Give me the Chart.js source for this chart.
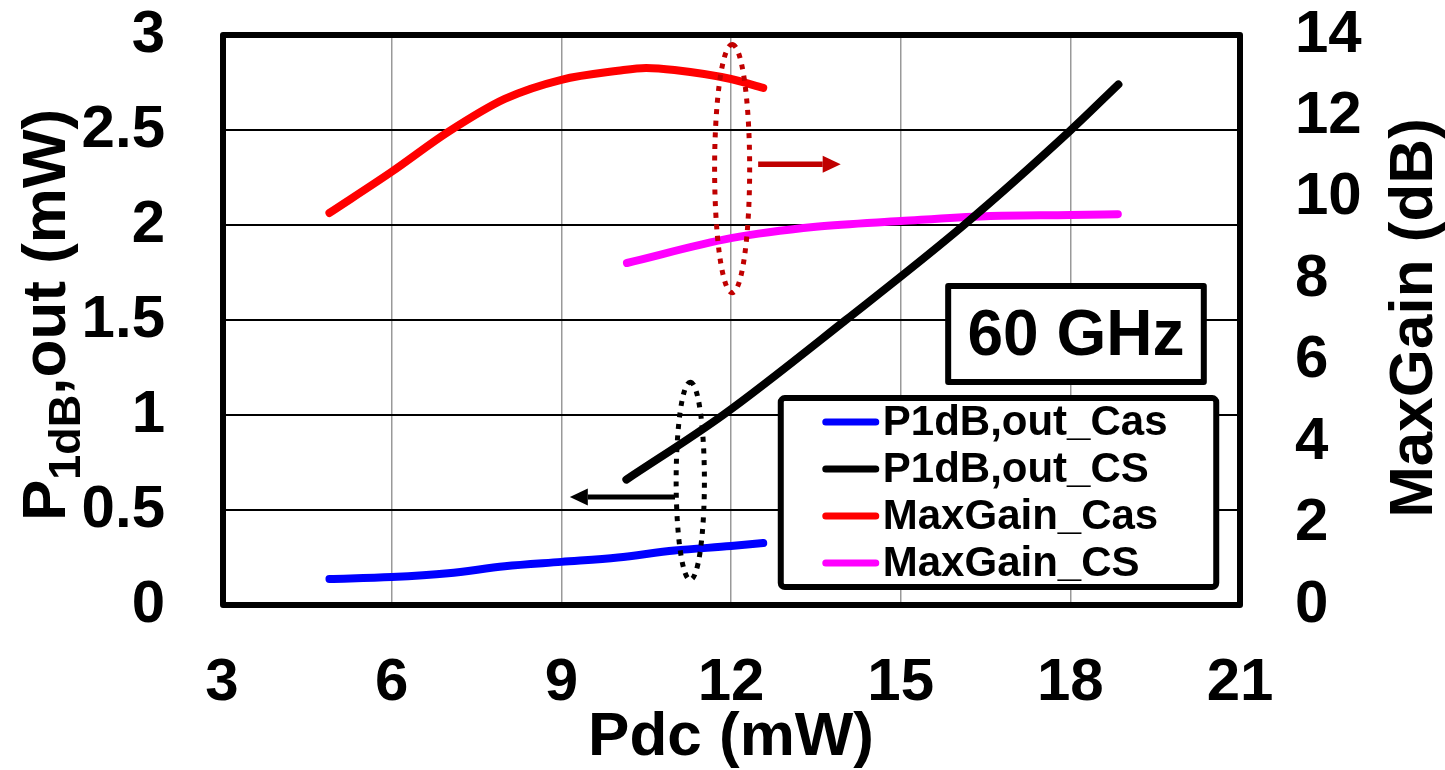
<!DOCTYPE html>
<html>
<head>
<meta charset="utf-8">
<title>P1dB,out and MaxGain vs Pdc</title>
<script src="https://cdn.jsdelivr.net/npm/chart.js@4.4.1/dist/chart.umd.min.js"></script>
<style>
  html, body { margin: 0; padding: 0; background: #fff; }
  canvas { display: block; }
</style>
</head>
<body>
<canvas id="chart" width="1445" height="770"></canvas>
<script>
// ---------------- Data ----------------
const xTicks = [3, 6, 9, 12, 15, 18, 21];
const p1dbTicks = [0, 0.5, 1, 1.5, 2, 2.5, 3];
const gainTicks = [0, 2, 4, 6, 8, 10, 12, 14];

// P1dB,out (mW) vs Pdc (mW)
const p1dbCasX = [4.9, 6, 7, 8, 9, 10, 11, 12, 12.57];
const p1dbCasY = [0.137, 0.147, 0.167, 0.204, 0.227, 0.25, 0.287, 0.31, 0.326];
const p1dbCsX  = [10.15, 11.86, 14.03, 16.12, 18.01, 18.85];
const p1dbCsY  = [0.66, 1.0, 1.5, 2.0, 2.5, 2.74];

// MaxGain (dB) vs Pdc (mW)
const gainCasX = [4.9, 6, 7, 8, 9, 10, 10.5, 11, 12, 12.57];
const gainCasY = [9.63, 10.64, 11.62, 12.43, 12.9, 13.12, 13.19, 13.14, 12.92, 12.7];
const gainCsX  = [10.16, 12, 13.5, 15, 16.5, 18, 18.84];
const gainCsY  = [8.4, 9.01, 9.29, 9.43, 9.55, 9.58, 9.6];

const seriesNames = ["P1dB,out_Cas", "P1dB,out_CS", "MaxGain_Cas", "MaxGain_CS"];

// ---------------- Annotations (in x / left-axis units) ----------------
const gainMark   = { x: 12.02, y: 2.297, rx: 0.31, ry: 0.653, color: "#C00000" };
const p1dbMark   = { x: 11.28, y: 0.653, rx: 0.25, ry: 0.52, color: "#000000" };
const gainArrow  = { x0: 12.48, x1: 13.94, y: 2.32, color: "#C00000", width: 5.5 };
const p1dbArrow  = { x0: 11.01, x1: 9.15, y: 0.568, color: "#000000", width: 5 };
const freqBox    = { x0: 15.84, x1: 20.36, y0: 1.679, y1: 1.174, text: "60 GHz" };
const legendBox  = { x0: 12.88, x1: 20.58, y0: 1.089, y1: 0.095 };

const FONT = "'Liberation Sans', Arial, sans-serif";
const toPts = (xs, ys) => xs.map((x, i) => ({ x, y: ys[i] }));

function line(label, color, data, axis) {
  return {
    label, data, yAxisID: axis,
    borderColor: color, backgroundColor: color,
    borderWidth: 8, pointRadius: 0,
    borderCapStyle: "round", borderJoinStyle: "round",
    cubicInterpolationMode: "monotone", fill: false
  };
}

// big tick paddings must not push the plot area in from the canvas edges
function fixedSize(prop, size) {
  return s => {
    s[prop] = size;
    s.paddingTop = s.paddingBottom = s.paddingLeft = s.paddingRight = 0;
  };
}

// ---------------- Drawing helpers ----------------
function dottedEllipse(ctx, x, y, m) {
  const cx = x.getPixelForValue(m.x), cy = y.getPixelForValue(m.y);
  const rx = Math.abs(x.getPixelForValue(m.x + m.rx) - cx);
  const ry = Math.abs(y.getPixelForValue(m.y + m.ry) - cy);
  ctx.save();
  ctx.strokeStyle = m.color;
  ctx.lineWidth = 5;
  ctx.setLineDash([5, 6.5]);
  ctx.beginPath();
  ctx.ellipse(cx, cy, rx, ry, 0, -Math.PI / 2, Math.PI * 1.5);
  ctx.stroke();
  ctx.restore();
}

function arrow(ctx, x, y, a) {
  const px0 = x.getPixelForValue(a.x0), px1 = x.getPixelForValue(a.x1);
  const py = y.getPixelForValue(a.y);
  const dir = Math.sign(px1 - px0);
  const head = 18;
  ctx.save();
  ctx.strokeStyle = a.color;
  ctx.fillStyle = a.color;
  ctx.lineWidth = a.width;
  ctx.beginPath();
  ctx.moveTo(px0, py);
  ctx.lineTo(px1 - dir * head, py);
  ctx.stroke();
  ctx.beginPath();
  ctx.moveTo(px1, py);
  ctx.lineTo(px1 - dir * head, py - 8.5);
  ctx.lineTo(px1 - dir * head, py + 8.5);
  ctx.closePath();
  ctx.fill();
  ctx.restore();
}

function boxRect(x, y, b) {
  const l = x.getPixelForValue(b.x0), r = x.getPixelForValue(b.x1);
  const t = y.getPixelForValue(b.y0), btm = y.getPixelForValue(b.y1);
  return { l, t, w: r - l, h: btm - t };
}

const overlays = {
  id: "overlays",
  afterDatasetsDraw(chart) {
    const { ctx, chartArea: a, scales: { x, y } } = chart;
    ctx.save();

    // plot frame
    ctx.strokeStyle = "#000";
    ctx.lineWidth = 6;
    ctx.lineJoin = "round";
    ctx.strokeRect(a.left + 1, a.top, a.right - a.left - 1, a.bottom - a.top);

    dottedEllipse(ctx, x, y, gainMark);
    dottedEllipse(ctx, x, y, p1dbMark);
    arrow(ctx, x, y, gainArrow);
    arrow(ctx, x, y, p1dbArrow);

    // frequency label
    const f = boxRect(x, y, freqBox);
    ctx.fillStyle = "#fff";
    ctx.fillRect(f.l, f.t, f.w, f.h);
    ctx.lineWidth = 6;
    ctx.strokeRect(f.l, f.t, f.w, f.h);
    ctx.fillStyle = "#000";
    ctx.font = `bold 64px ${FONT}`;
    ctx.textAlign = "center";
    ctx.textBaseline = "middle";
    ctx.fillText(freqBox.text, f.l + f.w / 2, f.t + f.h / 2 + 3);

    // legend
    const g = boxRect(x, y, legendBox);
    ctx.fillStyle = "#fff";
    ctx.beginPath();
    ctx.roundRect(g.l, g.t, g.w, g.h, 4);
    ctx.fill();
    ctx.lineWidth = 6;
    ctx.strokeStyle = "#000";
    ctx.stroke();
    ctx.font = `bold 42px ${FONT}`;
    ctx.textAlign = "left";
    ctx.textBaseline = "middle";
    chart.data.datasets.forEach((ds, i) => {
      const ry = g.t + 24 + i * 47;
      ctx.strokeStyle = ds.borderColor;
      ctx.lineWidth = 7;
      ctx.lineCap = "round";
      ctx.beginPath();
      ctx.moveTo(g.l + 45, ry);
      ctx.lineTo(g.l + 95, ry);
      ctx.stroke();
      ctx.fillStyle = "#000";
      ctx.fillText(ds.label, g.l + 102, ry + 1);
    });
    ctx.restore();
  },
  afterDraw(chart) {
    const { ctx, chartArea: a, scales: { y, y1 } } = chart;
    const mid = (a.top + a.bottom) / 2;
    ctx.save();
    ctx.fillStyle = "#000";
    ctx.textBaseline = "alphabetic";

    // left title with subscript: P_1dB,out (mW)
    const big = `bold 62px ${FONT}`, small = `bold 45px ${FONT}`;
    ctx.font = big;
    const wP = ctx.measureText("P").width;
    const wRest = ctx.measureText(",out (mW)").width;
    ctx.font = small;
    const wSub = ctx.measureText("1dB").width;
    const total = wP + wSub + wRest;
    ctx.translate(y.left + 65, mid - 5);
    ctx.rotate(-Math.PI / 2);
    ctx.textAlign = "left";
    let sx = -total / 2;
    ctx.font = big;
    ctx.fillText("P", sx, 0);
    sx += wP;
    ctx.font = small;
    ctx.fillText("1dB", sx, 15);
    sx += wSub;
    ctx.font = big;
    ctx.fillText(",out (mW)", sx, 0);
    ctx.restore();

    // right title
    ctx.save();
    ctx.fillStyle = "#000";
    ctx.font = big;
    ctx.textAlign = "center";
    ctx.textBaseline = "alphabetic";
    ctx.translate(y1.right - 13, mid - 2);
    ctx.rotate(-Math.PI / 2);
    ctx.fillText("MaxGain (dB)", 0, 0);
    ctx.restore();
  }
};

const tickFont = { family: FONT, size: 60, weight: "bold" };

new Chart(document.getElementById("chart"), {
  type: "line",
  data: {
    datasets: [
      line(seriesNames[0], "#0000FF", toPts(p1dbCasX, p1dbCasY), "y"),
      line(seriesNames[1], "#000000", toPts(p1dbCsX, p1dbCsY), "y"),
      line(seriesNames[2], "#FF0000", toPts(gainCasX, gainCasY), "y1"),
      line(seriesNames[3], "#FF00FF", toPts(gainCsX, gainCsY), "y1")
    ]
  },
  options: {
    responsive: false,
    animation: false,
    devicePixelRatio: 1,
    layout: { autoPadding: false, padding: { top: 35, left: 0, right: 0, bottom: 0 } },
    plugins: { legend: { display: false }, tooltip: { enabled: false } },
    scales: {
      x: {
        type: "linear", min: 3, max: 21,
        afterBuildTicks: s => { s.ticks = xTicks.map(v => ({ value: v })); },
        afterFit: fixedSize("height", 165),
        ticks: { font: tickFont, color: "#000", padding: 42, maxRotation: 0, autoSkip: false, callback: v => String(v) },
        grid: { color: "#999", lineWidth: 1.5, drawTicks: false },
        border: { display: false },
        title: {
          display: true, text: "Pdc (mW)", color: "#000",
          font: { family: FONT, size: 62, weight: "bold", lineHeight: 1 },
          padding: { top: 0, bottom: 1 }
        }
      },
      y: {
        type: "linear", position: "left", min: 0, max: 3,
        afterBuildTicks: s => { s.ticks = p1dbTicks.map(v => ({ value: v })); },
        afterFit: fixedSize("width", 222),
        ticks: { font: tickFont, color: "#000", padding: 57, autoSkip: false, callback: v => String(v) },
        grid: { color: "#000", lineWidth: 2, drawTicks: false },
        border: { display: false }
      },
      y1: {
        type: "linear", position: "right", min: 0, max: 14,
        afterBuildTicks: s => { s.ticks = gainTicks.map(v => ({ value: v })); },
        afterFit: fixedSize("width", 205),
        ticks: { font: tickFont, color: "#000", padding: 55, autoSkip: false, callback: v => String(v) },
        grid: { drawOnChartArea: false, drawTicks: false },
        border: { display: false }
      }
    }
  },
  plugins: [overlays]
});
</script>
</body>
</html>
